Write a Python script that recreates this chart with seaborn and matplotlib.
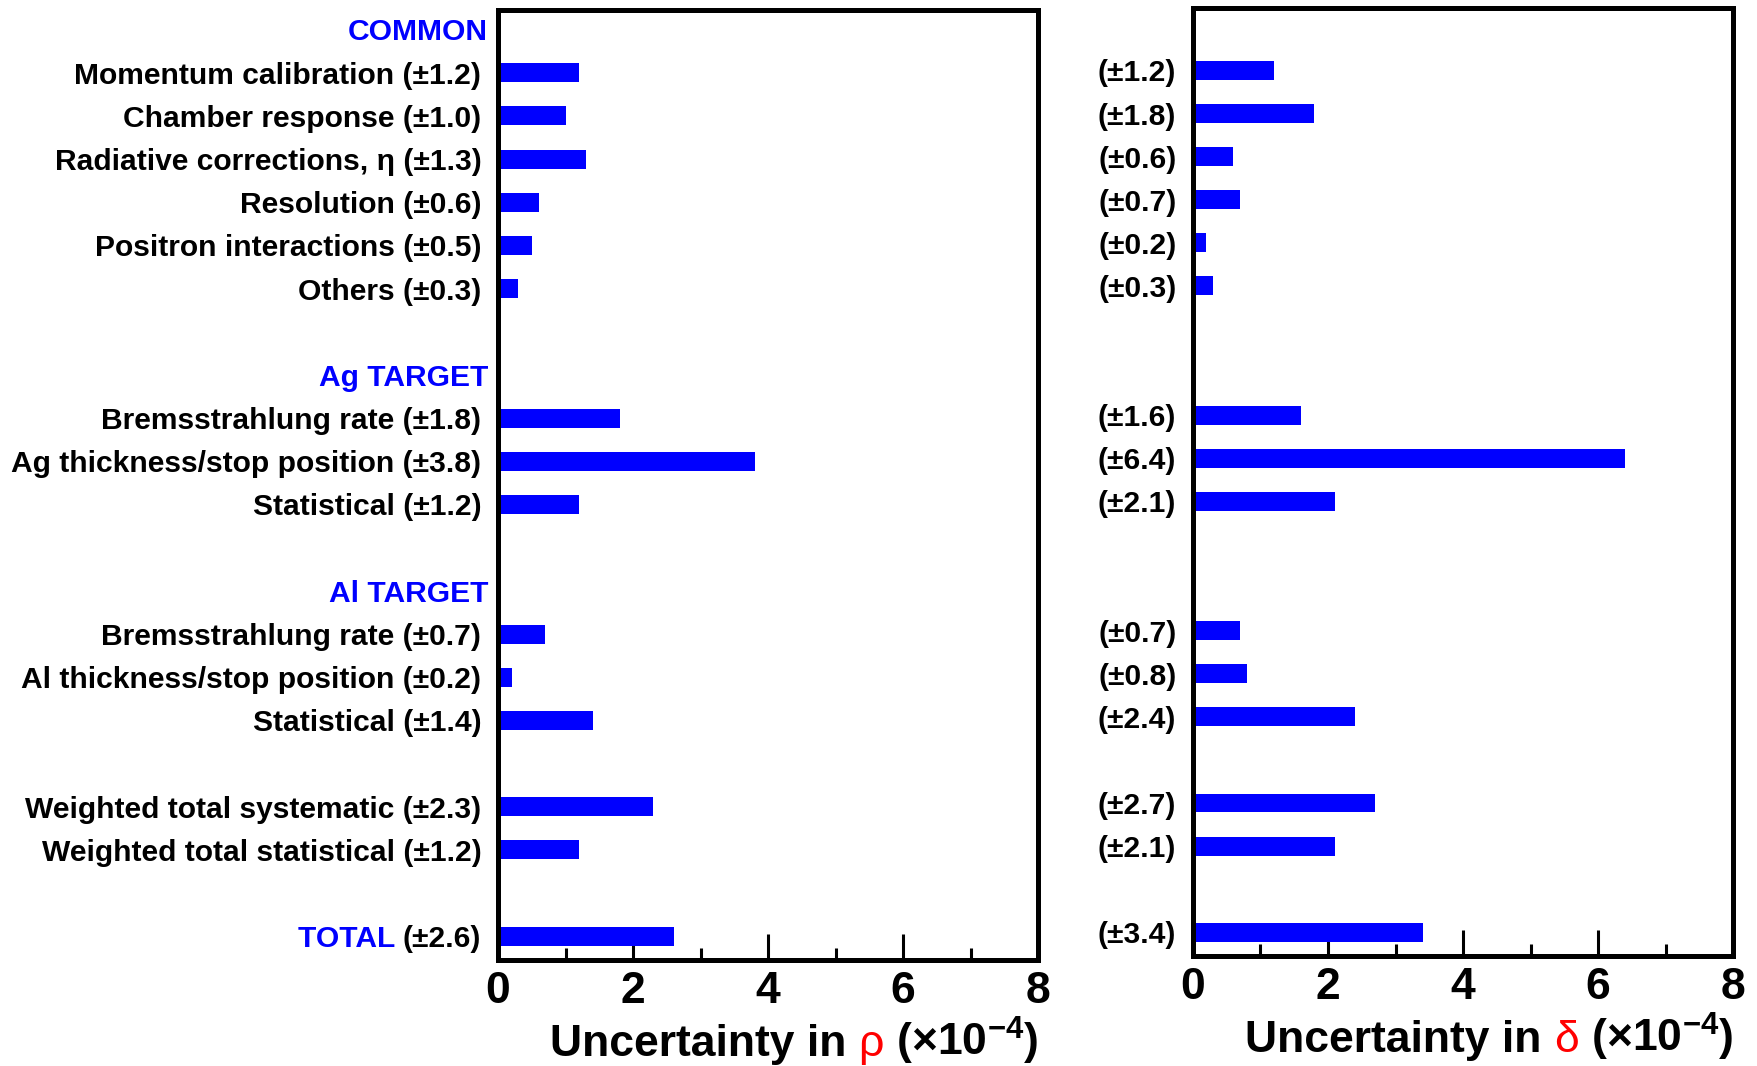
import matplotlib
matplotlib.use("Agg")
import numpy as np
import pandas as pd
import matplotlib.pyplot as plt
import seaborn as sns

# Systematic uncertainty budget (units of 1e-4)
groups = ["COMMON"] * 6 + ["Ag TARGET"] * 3 + ["Al TARGET"] * 3 + [""] * 2 + ["TOTAL"]
sources = [
    "Momentum calibration",
    "Chamber response",
    "Radiative corrections, \u03b7",
    "Resolution",
    "Positron interactions",
    "Others",
    "Bremsstrahlung rate",
    "Ag thickness/stop position",
    "Statistical",
    "Bremsstrahlung rate",
    "Al thickness/stop position",
    "Statistical",
    "Weighted total systematic",
    "Weighted total statistical",
    "TOTAL",
]
rho_err = [1.2, 1.0, 1.3, 0.6, 0.5, 0.3, 1.8, 3.8, 1.2, 0.7, 0.2, 1.4, 2.3, 1.2, 2.6]
delta_err = [1.2, 1.8, 0.6, 0.7, 0.2, 0.3, 1.6, 6.4, 2.1, 0.7, 0.8, 2.4, 2.7, 2.1, 3.4]
headers = ["COMMON", "Ag TARGET", "Al TARGET"]

BLUE = "#0000ff"

sns.set_theme(style="white")
plt.rcParams["font.family"] = ["Liberation Sans", "DejaVu Sans"]
plt.rcParams["font.weight"] = "bold"
plt.rcParams["text.color"] = "black"
plt.rcParams["xtick.color"] = "black"
plt.rcParams["ytick.color"] = "black"
plt.rcParams["axes.labelcolor"] = "black"
plt.rcParams["mathtext.fontset"] = "custom"
for k in ["rm", "it", "bf", "sf"]:
    plt.rcParams["mathtext." + k] = "Liberation Sans:bold"

# row layout: blank line between blocks, header line for named blocks
rows = []
header_rows = {}
pos = -1
prev = None
for g in groups:
    if g != prev:
        if prev is not None:
            pos += 1
        if g in headers:
            pos += 1
            header_rows[g] = pos
        prev = g
    pos += 1
    rows.append(pos)

df = pd.DataFrame({"row": rows, "rho": rho_err, "delta": delta_err})

fig = plt.figure(figsize=(17.58, 10.66), dpi=100)
ax1 = fig.add_axes([0.2833, 0.0994, 0.3072, 0.8912])
ax2 = fig.add_axes([0.6786, 0.1032, 0.3072, 0.8893])

LABEL_FS = 21.6
TICK_FS = 32


def pm(v):
    return f"(\u00b1{v:.1f})"


for ax, col in [(ax1, "rho"), (ax2, "delta")]:
    sns.barplot(data=df, x=col, y="row", orient="y", native_scale=True,
                width=0.44, color=BLUE, saturation=1, linewidth=0,
                errorbar=None, ax=ax)
    ax.set_xlim(0, 8)
    ax.set_ylim(21.55, -0.45)
    ax.set_xlabel("")
    ax.set_ylabel("")
    ax.set_xticks([0, 2, 4, 6, 8])
    ax.set_xticks([1, 3, 5, 7], minor=True)
    ax.set_xticklabels(["0", "2", "4", "6", "8"])
    ax.tick_params(axis="x", which="major", direction="in", length=19,
                   width=2.2, labelsize=TICK_FS, pad=8, bottom=True,
                   color="black", labelcolor="black")
    ax.tick_params(axis="x", which="minor", direction="in", length=8.5,
                   width=2.2, bottom=True, color="black")
    ax.tick_params(axis="y", length=0, pad=12, labelsize=LABEL_FS,
                   labelcolor="black")
    for s in ax.spines.values():
        s.set_visible(True)
        s.set_color("black")
        s.set_linewidth(3.6)
    ax.set_yticks(rows)

left_labels = []
for name, v in zip(sources, rho_err):
    if name == "TOTAL":
        left_labels.append(pm(v))
    else:
        left_labels.append(f"{name} {pm(v)}")
ax1.set_yticklabels(left_labels)
ax2.set_yticklabels([pm(v) for v in delta_err])

# block headers on the left panel
ytrans = ax1.get_yaxis_transform()
for h, r in header_rows.items():
    ax1.annotate(h, xy=(0, r), xycoords=ytrans, xytext=(-10, 0),
                 textcoords="offset pixels", ha="right", va="center_baseline",
                 color=BLUE, fontsize=LABEL_FS, fontweight="bold")

fig.canvas.draw()
renderer = fig.canvas.get_renderer()

# blue "TOTAL" in front of its tick label
tot_lab = ax1.get_yticklabels()[-1]
bb = tot_lab.get_window_extent(renderer)
ax_left_px = ax1.bbox.x0
ax1.annotate("TOTAL ", xy=(0, rows[-1]), xycoords=ytrans,
             xytext=(-(ax_left_px - bb.x0), 0), textcoords="offset pixels",
             ha="right", va="center_baseline", color=BLUE,
             fontsize=LABEL_FS, fontweight="bold")

# x labels, built right-to-left so the symbol can be red
for ax, sym in [(ax1, "\u03c1"), (ax2, "\u03b4")]:
    y = -0.101
    parts = [(" (\u00d710$^{-4}$)", "black", "bold"),
             (sym, "red", "normal"),
             ("Uncertainty in ", "black", "bold")]
    x = 1.0
    for txt, c, w in parts:
        t = ax.text(x, y, txt, transform=ax.transAxes, ha="right",
                    va="baseline", color=c, fontsize=TICK_FS, fontweight=w)
        wpx = t.get_window_extent(renderer).width
        x -= wpx / ax.bbox.width

fig.savefig("out.png", dpi=100)
